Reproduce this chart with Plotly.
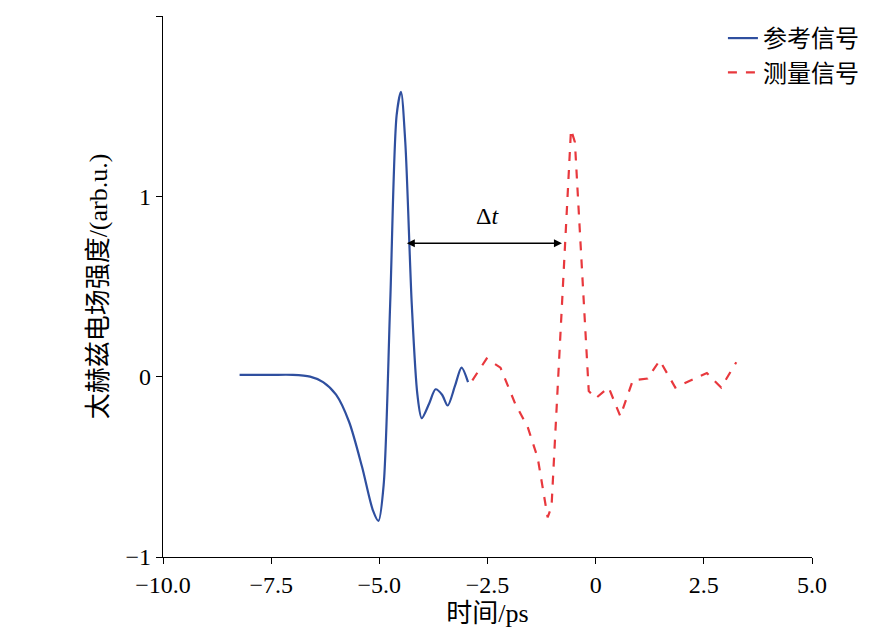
import plotly.graph_objects as go

# reference signal
ref_t = [-8.23, -7.5, -7.0, -6.6, -6.3, -6.0, -5.7, -5.4, -5.15, -5.02, -4.9, -4.75,
         -4.6, -4.5, -4.4, -4.25, -4.12, -4.02, -3.85, -3.7, -3.55, -3.42, -3.25, -3.1, -2.95]
ref_e = [0.01, 0.01, 0.01, 0.0, -0.03, -0.1, -0.25, -0.5, -0.74, -0.8, -0.6, 0.4,
         1.45, 1.58, 1.3, 0.4, -0.1, -0.23, -0.15, -0.07, -0.1, -0.16, -0.05, 0.05, -0.03]

# measured signal
mea_t = [-2.85, -2.52, -2.2, -1.86, -1.57, -1.34, -1.11, -1.02, -0.57, -0.48,
         -0.16, 0.0, 0.3, 0.57, 0.86, 1.2, 1.48, 1.84, 2.57, 2.9, 3.25]
mea_e = [-0.02, 0.1, 0.05, -0.15, -0.28, -0.45, -0.78, -0.72, 1.37, 1.3,
         -0.08, -0.12, -0.06, -0.22, -0.02, -0.01, 0.09, -0.06, 0.02, -0.06, 0.08]

arrow_x = [-4.4, -0.78]
arrow_y = 0.74

fig = go.Figure()
fig.add_trace(go.Scatter(x=ref_t, y=ref_e, mode="lines", name="参考信号",
                         line=dict(color="#2f4f9f", width=2.2, shape="spline", smoothing=0.8)))
fig.add_trace(go.Scatter(x=mea_t, y=mea_e, mode="lines", name="测量信号",
                         line=dict(color="#e8383d", width=2.2, dash="dash")))

fig.add_annotation(x=arrow_x[1], y=arrow_y, ax=arrow_x[0], ay=arrow_y, xref="x", yref="y",
                   axref="x", ayref="y", showarrow=True, arrowhead=2, arrowside="end+start",
                   arrowwidth=1.6, arrowcolor="black", text="")
fig.add_annotation(x=-2.5, y=0.89, text="Δ<i>t</i>", showarrow=False,
                   font=dict(size=24, color="black"))

axis = dict(showline=True, linecolor="black", linewidth=1.2, ticks="outside",
            ticklen=6, tickcolor="black", showgrid=False, zeroline=False,
            tickfont=dict(size=24, color="black"), title_font=dict(size=26, color="black"))
fig.update_layout(
    width=886, height=631, plot_bgcolor="white", paper_bgcolor="white",
    font=dict(family="Liberation Serif, Noto Sans CJK SC", color="black"),
    margin=dict(l=155, r=82, t=8, b=82, autoexpand=False),
    xaxis=dict(axis, range=[-10, 5], tickvals=[-10, -7.5, -5, -2.5, 0, 2.5, 5],
               ticktext=["−10.0", "−7.5", "−5.0", "−2.5", "0", "2.5", "5.0"],
               title_text="时间/ps", title_standoff=6),
    yaxis=dict(axis, range=[-1, 2], tickvals=[-1, 0, 1, 2],
               ticktext=["−1", "0", "1", "2"], title_text="太赫兹电场强度/(arb.u.)",
               title_standoff=10),
    legend=dict(x=1.08, y=1.0, xanchor="right", yanchor="top", bgcolor="rgba(0,0,0,0)",
                font=dict(size=24, color="black")),
)
fig.write_html("out.html")
